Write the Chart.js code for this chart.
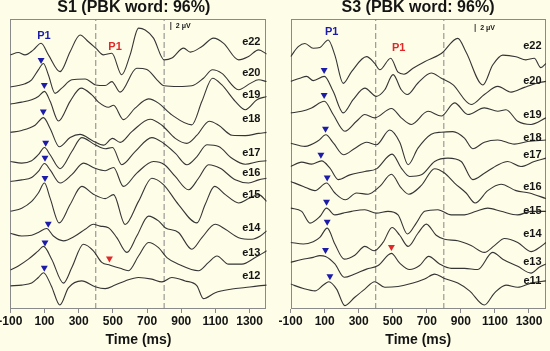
<!DOCTYPE html>
<html>
<head>
<meta charset="utf-8">
<script src="https://cdn.jsdelivr.net/npm/chart.js@4.4.0/dist/chart.umd.min.js"></script>
<style>
  html, body { margin: 0; padding: 0; background: #fefde8; }
  body { width: 550px; height: 351px; position: relative; overflow: hidden; }
  canvas { position: absolute; top: 0; }
  #c1 { left: -4px; }
  #c2 { left: 275px; }
</style>
</head>
<body>
<canvas id="c1" width="280" height="351"></canvas>
<canvas id="c2" width="275" height="351"></canvas>
<script>
// ---- data: time (ms) / amplitude (µV) pairs, one array per electrode ----
const timeTicks = [-100, 100, 300, 500, 700, 900, 1100, 1300];
const windowMarks = [400, 800];

const s1Names = ['e22', 'e20', 'e19', 'e18', 'e17', 'e16', 'e15', 'e14', 'e13', 'e12'];
const s1Offsets = [63.75, 55.8, 51.4, 44.3, 37, 32, 24.5, 19, 10, 5.8];
const s1P1Latency = [null, 80, 99, 93, 107, 103, 103, 122, 103, 99];
const s1LateP1 = { electrode: 'e13', latency: 480 };

const s1_e22 = [[-100,0],[-53,0.6],[-14,0],[35,1.25],[80,2.9],[123,0],[191,-4.2],[250,0.8],[308,5],[357,3.3],[400,1.7],[445,0],[494,0.4],[552,-5],[601,0],[650,6.7],[689,6.25],[738,4.2],[800,-1.25],[845,-0.8],[914,1.7],[953,0.7],[1021,2.1],[1089,4.2],[1148,2.9],[1236,-1.25],[1294,-0.4],[1353,1.25],[1400,0.2]];
const s1_e20 = [[-100,-0.1],[-53,0.25],[-14,0.7],[25,1.7],[64,4.2],[94,5.8],[123,2.9],[162,-1.7],[201,-0.4],[260,1.7],[338,1.9],[400,0.4],[455,0.25],[494,1.25],[542,-1.4],[640,4.6],[699,4.3],[758,1.7],[800,0.2],[884,0],[962,0.2],[1030,2.1],[1083,4.2],[1138,3.3],[1236,-0.8],[1304,0.8],[1353,1.7],[1400,1.25]];
const s1_e19 = [[-100,0],[-33,0.5],[25,1.1],[64,1.9],[100,3.2],[133,0.7],[182,-4.25],[250,0.7],[314,4],[377,2.3],[416,0.5],[474,-0.8],[504,-0.3],[562,-3.9],[630,-1],[709,1.3],[767,0.25],[845,-2.7],[962,-5.2],[1021,0.7],[1083,6.5],[1138,4.8],[1216,0.7],[1275,-1.4],[1343,1.1],[1400,1.9]];
const s1_e18 = [[-100,0],[-33,0.5],[45,1.8],[94,3.7],[133,1],[187,-3.6],[250,-1.3],[308,-0.5],[386,-2.2],[445,-3.2],[498,-1.5],[543,-2.5],[611,0.2],[718,3.3],[787,1.8],[865,-1.5],[933,-2.75],[992,-0.7],[1064,2.8],[1119,1.8],[1197,-0.7],[1275,-0.8],[1353,-0.25],[1400,0]];
const s1_e17 = [[-100,0],[-33,-0.4],[25,0.2],[64,1.7],[100,3.5],[133,1.7],[191,-1.8],[260,2.5],[318,6],[396,4.2],[455,3.2],[498,3.5],[552,-0.8],[630,2.5],[728,6],[796,4.6],[865,2.1],[933,-0.8],[992,1.25],[1050,4.2],[1119,3.75],[1197,0.8],[1275,-0.7],[1353,0],[1400,0.2]];
const s1_e16 = [[-100,0],[-33,0.4],[25,1],[64,2.5],[100,4.5],[133,2.9],[191,-0.4],[260,1.7],[328,4.6],[396,3.3],[455,2.7],[504,3.5],[562,-1.25],[640,2.1],[738,5],[802,4.2],[865,1.25],[943,-2.1],[1001,0.8],[1060,4.2],[1128,3.3],[1216,0.4],[1294,-0.4],[1353,0.4],[1400,0.8]];
const s1_e15 = [[-100,0],[-33,0.8],[25,2.5],[64,4.6],[100,7.1],[133,3.3],[186,-2.9],[250,1.7],[318,6.25],[386,4.3],[455,3.2],[504,4.2],[572,-3.3],[650,2.5],[728,8.3],[796,6.7],[884,1.7],[992,-2.9],[1040,1.7],[1095,6.25],[1158,4.2],[1236,2.1],[1294,3.2],[1353,4.2],[1400,2.5]];
const s1_e14 = [[-100,0],[-33,-0.7],[25,-0.5],[64,0.2],[113,1.2],[152,-0.7],[211,-1.9],[279,-0.7],[338,1],[386,2.25],[425,1.8],[474,1.4],[523,-1.1],[582,-4.8],[640,-0.7],[709,4.3],[767,3.1],[806,1.4],[884,0.2],[962,-4],[1021,-1.1],[1099,2.25],[1158,1],[1236,-1.1],[1314,-1.5],[1363,-0.7],[1400,0.6]];
const s1_e13 = [[-100,-0.2],[-53,0.8],[6,2.5],[64,4.6],[94,5.7],[142,2.5],[211,-3.5],[260,0.4],[328,6.25],[386,4.6],[435,1.7],[484,1],[543,0.2],[591,-0.4],[650,3.3],[709,6.7],[767,5.4],[816,2.9],[884,1.25],[1001,-0.4],[1060,1.7],[1109,3.3],[1177,1.25],[1255,1.25],[1333,2.9],[1400,4.6]];
const s1_e12 = [[-100,0],[-33,0.2],[25,0.7],[64,2.1],[94,3.3],[140,0],[190,-4.8],[240,-0.5],[318,1.25],[396,-0.2],[455,-0.7],[513,0.2],[572,1.25],[650,2.1],[728,1.7],[787,1],[845,2.1],[923,1.25],[992,0],[1030,-3.2],[1099,-1.7],[1197,-0.8],[1275,-0.4],[1353,0],[1400,0.2]];

const s3Names = ['e22', 'e20', 'e19', 'e18', 'e17', 'e16', 'e15', 'e14', 'e13', 'e11'];
const s3Offsets = [63.3, 57.1, 49.2, 41.6, 35.75, 32, 25.3, 16.7, 11.7, 6.25];
const s3P1Latency = [null, 97, 97, 105, 78, 115, 111, 115, 105, 131];
const s3LateP1 = { electrode: 'e13', latency: 492 };

const s3_e22 = [[-100,0],[-55,2.5],[-16,3.3],[33,2.1],[72,2.3],[121,4.2],[160,0.4],[209,-6.7],[258,-3.75],[346,0],[394,-1.7],[424,-3.3],[488,-0.4],[531,-3.9],[566,-4.4],[619,-2.9],[687,-1.25],[785,0.8],[882,4.6],[931,1.1],[1029,-7.1],[1087,-2.1],[1146,0.4],[1224,0],[1282,-0.8],[1331,-0.4],[1370,-2.75],[1400,-1.7]];
const s3_e20 = [[-100,0],[-45,0.8],[-6,1.25],[33,0.2],[98,1.25],[150,-2.5],[209,-7.9],[267,-4.6],[336,-1.7],[404,-3.75],[453,-2.1],[502,1.7],[550,-2.1],[586,-3.3],[648,-0.4],[726,2.1],[785,0.8],[853,-0.8],[960,-5.8],[1038,-3.3],[1117,-1.25],[1195,-2.7],[1273,-1.5],[1351,-0.4],[1400,0]];
const s3_e19 = [[-100,0],[-35,0.4],[23,1.25],[98,2.9],[150,-0.4],[219,-4.6],[287,-2.1],[336,-0.4],[394,-1.25],[492,1.1],[550,-1.25],[609,-2.9],[707,0.4],[785,-0.8],[863,2.5],[941,-0.4],[1038,1.25],[1117,0.4],[1165,0.8],[1234,-2.1],[1312,-2.9],[1400,-1.25]];
const s3_e18 = [[-100,0],[-16,-0.8],[62,0.6],[107,2.1],[152,0],[211,-2.9],[279,-1.25],[346,0.25],[404,-0.4],[482,3.3],[541,0.25],[590,-5.4],[648,-1.25],[726,2.25],[785,2.75],[853,2.9],[921,1.25],[970,-1.4],[1038,0.25],[1117,0.8],[1214,-0.25],[1292,0.4],[1400,0.8]];
const s3_e17 = [[-100,0],[-35,1.1],[23,0.6],[82,1.4],[131,-0.4],[180,-3.3],[248,-2.1],[336,-1.25],[404,-0.6],[496,3.1],[550,-0.4],[599,-2.5],[668,-2.1],[746,1.25],[824,2.1],[902,1.25],[970,-3.3],[1038,-1.7],[1117,0.4],[1175,1.25],[1253,0],[1331,1.25],[1400,2.1]];
const s3_e16 = [[-100,0],[-25,-1.25],[43,-2.3],[111,-0.4],[160,-2.9],[222,-4.6],[287,-2.9],[355,-3.2],[424,-1.25],[492,1.8],[547,-1.5],[594,-3.2],[668,-1],[746,3.2],[804,2.1],[863,-0.4],[931,-2.9],[984,-5.4],[1058,-2.3],[1136,-0.7],[1224,-2.3],[1302,-2.9],[1400,-4.3]];
const s3_e15 = [[-100,0],[-35,-0.8],[14,-3.75],[72,-2.1],[111,0],[160,-1.7],[209,-1.25],[258,-0.8],[336,-0.4],[404,-1.25],[472,-0.8],[531,-1.7],[586,-6.5],[638,-3.75],[687,-0.8],[765,-0.4],[843,-1.7],[921,-1.7],[990,-0.8],[1058,0],[1136,-0.8],[1234,-1.7],[1312,-0.8],[1400,-0.8]];
const s3_e14 = [[-100,0],[-25,-0.4],[33,0.2],[72,1.25],[115,3.6],[160,-0.4],[215,-4.2],[277,-3.2],[336,-1],[390,-2.1],[443,0],[496,3.75],[541,1.8],[590,-1],[648,2.3],[697,4.6],[755,1.8],[804,0.8],[882,0.4],[960,-0.8],[1038,-2.5],[1097,-0.8],[1156,1],[1234,0],[1312,-2.3],[1370,-1],[1400,0]];
const s3_e13 = [[-100,0],[-35,0.7],[33,1.25],[72,1.7],[105,1.5],[160,-0.4],[215,-3.75],[277,-2.9],[346,-1.7],[414,-0.8],[492,2.25],[541,-0.2],[599,-1.8],[658,-0.8],[711,1.5],[775,-0.4],[843,-1.5],[921,-1.5],[999,-1.8],[1087,2.5],[1146,0.8],[1234,-1],[1312,-2.7],[1360,-1.25],[1400,-0.4]];
const s3_e11 = [[-100,0],[-25,-1.1],[43,-1.7],[92,-0.25],[125,0.6],[170,-1.25],[219,-5.4],[277,-3.3],[336,-1.25],[394,0.6],[453,-0.8],[531,-0.6],[619,0.25],[687,1.25],[746,2.5],[804,1.4],[882,0.25],[951,-1.7],[1038,-5.25],[1097,-2.25],[1165,-0.25],[1234,-0.8],[1312,0.25],[1400,0.8]];

// ---- drawing ----
const FONT = '"Liberation Sans", Arial, Helvetica, sans-serif';
const INK = '#141414';
const TRACE = '#353535';
const BLUE = '#1c1ca8';
const RED = '#e02828';
const Y_MAX = 72.75;       // µV shown over the stacked plot height
const MARK_GAP = 1.6;      // triangle sits this far above the curve

function valueAt(trace, t) {
  for (let i = 1; i < trace.length; i++) {
    const [t0, v0] = trace[i - 1], [t1, v1] = trace[i];
    if (t <= t1) return v0 + (v1 - v0) * (t - t0) / (t1 - t0);
  }
  return trace[trace.length - 1][1];
}

const panels = [
  {
    canvas: 'c1', title: 'S1 (PBK word: 96%)', titleX: 137.8,
    names: s1Names, offsets: s1Offsets, p1: s1P1Latency, late: s1LateP1,
    traces: [s1_e22, s1_e20, s1_e19, s1_e18, s1_e17, s1_e16, s1_e15, s1_e14, s1_e13, s1_e12],
    labelLevel: [67.1, 59.25, 53.75, 47.7, 39.1, 34.1, 28.7, 20.25, 14, 8.3], labelT: 1310,
    p1Text: [{ t: 97, y: 68.5, c: BLUE }, { t: 513, y: 65.7, c: RED }],
    bar: { t: 839, y: 70 }, pad: { left: 14.3, right: 9.3 }
  },
  {
    canvas: 'c2', title: 'S3 (PBK word: 96%)', titleX: 143,
    names: s3Names, offsets: s3Offsets, p1: s3P1Latency, late: s3LateP1,
    traces: [s3_e22, s3_e20, s3_e19, s3_e18, s3_e17, s3_e16, s3_e15, s3_e14, s3_e13, s3_e11],
    labelLevel: [66.1, 57.3, 48.6, 43, 38.7, 30.5, 24.7, 18.75, 11.7, 7.1], labelT: 1320,
    p1Text: [{ t: 141, y: 69.4, c: BLUE }, { t: 535, y: 65.4, c: RED }],
    bar: { t: 984, y: 69.5 }, pad: { left: 15.6, right: 3.2 }
  }
];

function decor(p) {
  return {
    id: 'decor',
    beforeDatasetsDraw(chart) {
      const { ctx, chartArea: a } = chart;
      ctx.save();
      ctx.strokeStyle = '#8a8a8a';
      ctx.lineWidth = 1;
      ctx.strokeRect(Math.round(a.left) + 0.5, Math.round(a.top) + 0.5, Math.round(a.width) - 1, Math.round(a.height) - 1);
      ctx.restore();
    },
    afterDatasetsDraw(chart) {
      const { ctx, scales: { x, y } } = chart;
      ctx.save();
      ctx.textBaseline = 'middle';
      ctx.textAlign = 'center';
      ctx.fillStyle = INK;
      ctx.font = 'bold 16px ' + FONT;
      ctx.fillText(p.title, p.titleX, 8);

      ctx.font = 'bold 11px ' + FONT;
      p.names.forEach((n, i) => ctx.fillText(n, x.getPixelForValue(p.labelT), y.getPixelForValue(p.labelLevel[i])));

      ctx.font = 'bold 11px ' + FONT;
      p.p1Text.forEach(l => { ctx.fillStyle = l.c; ctx.fillText('P1', x.getPixelForValue(l.t), y.getPixelForValue(l.y)); });

      ctx.fillStyle = INK;
      ctx.textAlign = 'left';
      ctx.font = 'bold 7px ' + FONT;
      ctx.fillText('2 μV', x.getPixelForValue(p.bar.t) + 5, y.getPixelForValue(p.bar.y + 0.9));
      ctx.restore();
    }
  };
}

panels.forEach(p => {
  const datasets = [];
  windowMarks.forEach(t => datasets.push({
    data: [{ x: t, y: 0 }, { x: t, y: Y_MAX }],
    borderColor: '#858585', borderWidth: 1, borderDash: [6, 3], pointRadius: 0, order: 5
  }));
  p.traces.forEach((tr, i) => datasets.push({
    label: p.names[i],
    data: tr.map(([t, v]) => ({ x: t, y: v + p.offsets[i] })),
    borderColor: TRACE, borderWidth: 1.1, pointRadius: 0,
    cubicInterpolationMode: 'monotone', order: 3
  }));
  // scale bar: 2 µV
  datasets.push({
    data: [{ x: p.bar.t, y: p.bar.y }, { x: p.bar.t, y: p.bar.y + 2 }],
    borderColor: '#333', borderWidth: 1, pointRadius: 0, order: 3
  });
  const early = [];
  p.p1.forEach((lat, i) => {
    if (lat !== null) early.push({ x: lat, y: valueAt(p.traces[i], lat) + p.offsets[i] + MARK_GAP });
  });
  const li = p.names.indexOf(p.late.electrode);
  const late = [{ x: p.late.latency, y: valueAt(p.traces[li], p.late.latency) + p.offsets[li] + MARK_GAP }];
  [[early, BLUE], [late, RED]].forEach(([pts, c]) => datasets.push({
    type: 'scatter', data: pts, showLine: false,
    pointStyle: 'triangle', rotation: 180, pointRadius: 4,
    backgroundColor: c, borderColor: c, borderWidth: 0, order: 1
  }));

  new Chart(document.getElementById(p.canvas), {
    type: 'line',
    data: { datasets },
    options: {
      responsive: false,
      animation: false,
      layout: { padding: { left: p.pad.left, right: p.pad.right, top: 19, bottom: 2.8 } },
      plugins: { legend: { display: false }, tooltip: { enabled: false } },
      scales: {
        x: {
          type: 'linear', min: -100, max: 1400,
          afterBuildTicks: s => { s.ticks = timeTicks.map(v => ({ value: v })); },
          grid: { drawOnChartArea: false, drawTicks: true, tickLength: 4, color: '#8a8a8a' },
          border: { display: false },
          ticks: {
            color: INK, autoSkip: false, maxRotation: 0, padding: 1,
            font: { family: FONT, size: 12, weight: 'bold' },
            callback: v => String(v)
          },
          title: { display: true, text: 'Time (ms)', color: INK, padding: { top: 2, bottom: 0 }, font: { family: FONT, size: 14, weight: 'bold' } }
        },
        y: { type: 'linear', min: 0, max: Y_MAX, display: false }
      }
    },
    plugins: [decor(p)]
  });
});
</script>
</body>
</html>
